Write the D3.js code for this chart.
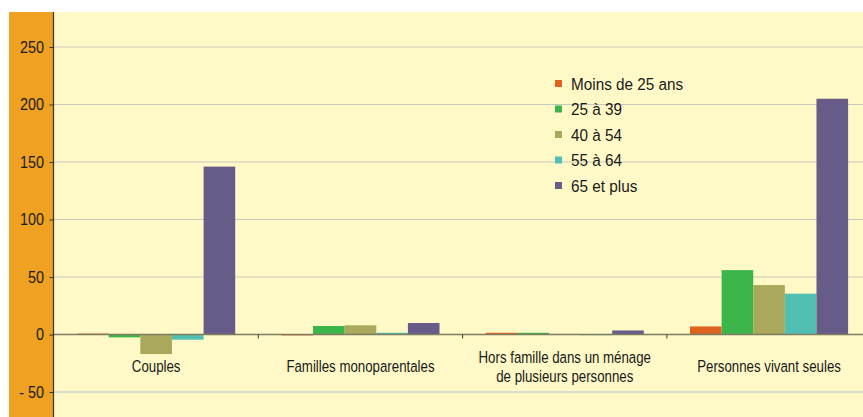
<!DOCTYPE html>
<html>
<head>
    <meta charset="utf-8">
    <script src="https://d3js.org/d3.v7.min.js"></script>
    <style>
        body { margin: 0; background: #ffffff; }
        svg text { font-family: 'Liberation Sans', Arial, sans-serif; fill: #1a1a1a; }
    </style>
</head>
<body>
    <div id="chart"></div>
    <script>
        // categories and series
        const categories = ['Couples', 'Familles monoparentales', 'Hors famille dans un ménage\nde plusieurs personnes', 'Personnes vivant seules'];
        const series = ['Moins de 25 ans', '25 à 39', '40 à 54', '55 à 64', '65 et plus'];
        const colors = ['#e0621f', '#3cb54b', '#aaa95b', '#52bfb4', '#675c88'];

        // values per age group, one per category
        const moins25 = [0.8, -0.8, 1.5, 7];
        const de25a39 = [-2.5, 7.4, 1.5, 56];
        const de40a54 = [-17, 8, 0.4, 43];
        const de55a64 = [-4.5, 1.5, -0.6, 35.5];
        const plus65 = [146, 10, 3.5, 205];
        const values = [moins25, de25a39, de40a54, de55a64, plus65];

        const yTicks = [-50, 0, 50, 100, 150, 200, 250];

        const width = 863, height = 417;
        const plot = { left: 54, top: 12, right: 863, bottom: 417 };
        // the original uses a condensed face, so text is squeezed horizontally
        const squeeze = 0.79;

        const svg = d3.select('#chart').append('svg')
            .attr('width', width)
            .attr('height', height);

        // orange side strip
        svg.append('rect')
            .attr('x', 9).attr('y', plot.top)
            .attr('width', plot.left - 9).attr('height', height - plot.top)
            .attr('fill', '#efa121');

        // plot background
        svg.append('rect')
            .attr('x', plot.left).attr('y', plot.top)
            .attr('width', plot.right - plot.left).attr('height', height - plot.top)
            .attr('fill', '#fef9c6');

        const y = d3.scaleLinear().domain([-50, 250]).range([392, 47]);

        const x0 = d3.scaleBand()
            .domain(categories)
            .range([plot.left, 871.2])
            .padding(0);

        const x1 = d3.scaleBand()
            .domain(series)
            .range([0, x0.bandwidth()])
            .paddingInner(0)
            .paddingOuter(0.73);

        // gridlines
        svg.append('g')
            .selectAll('line')
            .data(yTicks.filter(d => d !== 0))
            .enter().append('line')
            .attr('x1', plot.left).attr('x2', plot.right)
            .attr('y1', d => y(d)).attr('y2', d => y(d))
            .attr('stroke', d => d < 0 ? '#b9c0d6' : '#c9c7bb')
            .attr('stroke-width', 1.2);

        // bars
        const groups = svg.append('g')
            .selectAll('g')
            .data(series)
            .enter().append('g')
            .attr('fill', (d, i) => colors[i]);

        groups.selectAll('rect')
            .data((s, i) => values[i].map((v, j) => ({ s: s, v: v, c: categories[j] })))
            .enter().append('rect')
            .attr('x', d => x0(d.c) + x1(d.s))
            .attr('width', x1.bandwidth())
            .attr('y', d => y(Math.max(0, d.v)))
            .attr('height', d => Math.abs(y(d.v) - y(0)));

        // zero line and category ticks
        svg.append('line')
            .attr('x1', plot.left).attr('x2', plot.right)
            .attr('y1', y(0)).attr('y2', y(0))
            .attr('stroke', '#7d7c62')
            .attr('stroke-width', 1.5);

        svg.append('g')
            .selectAll('line')
            .data(categories.slice(1))
            .enter().append('line')
            .attr('x1', d => x0(d)).attr('x2', d => x0(d))
            .attr('y1', y(0)).attr('y2', y(0) + 4)
            .attr('stroke', '#3a3a3a');

        // category labels
        const catLabels = svg.append('g')
            .selectAll('text')
            .data(categories)
            .enter().append('text')
            .attr('text-anchor', 'middle')
            .attr('font-size', '16.8px')
            .attr('transform', d => {
                const n = d.split('\n').length;
                return `translate(${x0(d) + x0.bandwidth() / 2},${n > 1 ? 362.5 : 371.5}) scale(${squeeze},1)`;
            });

        catLabels.selectAll('tspan')
            .data(d => d.split('\n'))
            .enter().append('tspan')
            .attr('x', 0)
            .attr('dy', (d, i) => i === 0 ? 0 : 20)
            .text(d => d);

        // y axis
        const yAxis = svg.append('g')
            .attr('transform', `translate(${plot.left - 0.5},0)`)
            .call(d3.axisLeft(y)
                .tickValues(yTicks)
                .tickSize(4)
                .tickPadding(7)
                .tickFormat(d => d < 0 ? '- ' + Math.abs(d) : d));

        yAxis.select('.domain').remove();
        yAxis.selectAll('.tick line').attr('stroke', '#333');
        yAxis.selectAll('.tick text')
            .attr('font-size', '17px')
            .attr('font-family', "'Liberation Sans', Arial, sans-serif")
            .attr('fill', '#1a1a1a')
            .attr('transform', 'scale(0.85,1)');

        svg.append('line')
            .attr('x1', plot.left - 0.5).attr('x2', plot.left - 0.5)
            .attr('y1', plot.top).attr('y2', height)
            .attr('stroke', '#333')
            .attr('stroke-width', 1.2);

        // legend
        const legend = svg.append('g')
            .attr('transform', 'translate(555,84)');

        const items = legend.selectAll('g')
            .data(series)
            .enter().append('g')
            .attr('transform', (d, i) => `translate(0,${i * 25.5})`);

        items.append('rect')
            .attr('x', 0).attr('y', -4)
            .attr('width', 7).attr('height', 7)
            .attr('fill', (d, i) => colors[i]);

        items.append('text')
            .attr('transform', 'translate(16,0) scale(0.9,1)')
            .attr('dy', '0.35em')
            .attr('font-size', '17px')
            .text(d => d);
    </script>
</body>
</html>
